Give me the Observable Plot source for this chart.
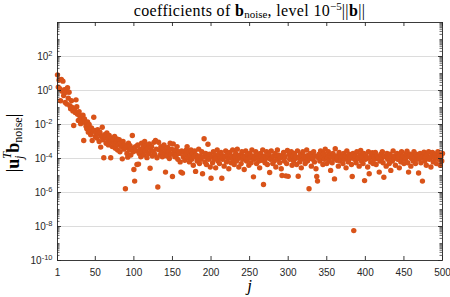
<!DOCTYPE html>
<html><head><meta charset="utf-8">
<script src="https://cdn.jsdelivr.net/npm/d3@7"></script>
<script src="https://cdn.jsdelivr.net/npm/@observablehq/plot@0.6"></script>
<style>
body{margin:0;background:#fff;}
#wrap{width:450px;height:297px;overflow:hidden;}
#title{height:20px;width:385px;margin-left:57px;text-align:center;font-family:"Liberation Serif","Times New Roman",serif;font-size:16px;letter-spacing:0.35px;line-height:21px;color:#000;white-space:nowrap;}
#title sub{font-size:11px;vertical-align:-2px;line-height:0;letter-spacing:0;}
#title sup{font-size:11px;vertical-align:6px;line-height:0;letter-spacing:0;}
#title .nb{font-weight:normal;}
</style></head>
<body><div id="wrap"><div id="title">coefficients of <b>b</b><sub>noise</sub>, level 10<sup>−5</sup><span class="nb">||</span><b>b</b><span class="nb">||</span></div></div>
<script>
// log10 of |u_j^T b_noise| for j = 1..500
const log10Coef = [
0.92,0.2,0.62,0.1,-0.6,0.65,-0.05,0.55,-0.3,0.05,
-0.7,-0.1,-0.8,0.16,-0.45,-0.1,-0.9,-1.08,-0.6,-1.0,
-1.2,-2.06,-1.1,-1.3,-0.55,-0.95,-1.4,-1.76,-1.25,-1.5,
-1.95,-1.6,-1.8,-1.45,-2.94,-1.67,-1.9,-2.1,-2.25,-1.85,
-2.45,-2.0,-2.3,-2.6,-2.2,-2.94,-2.4,-1.57,-2.35,-2.7,
-2.5,-2.8,-2.3,-2.55,-3.0,-2.45,-3.33,-2.7,-2.16,-2.9,
-3.96,-2.6,-2.75,-3.1,-2.5,-2.85,-3.2,-2.65,-3.05,-3.96,
-2.8,-3.3,-2.95,-3.15,-2.7,-3.4,-3.0,-2.85,-3.5,-3.2,
-2.9,-3.6,-3.1,-3.3,-4.02,-3.0,-3.45,-3.2,-5.78,-3.35,
-3.7,-3.92,-3.1,-3.5,-3.25,-3.8,-3.4,-2.65,-3.6,-4.65,
-5.33,-3.3,-3.55,-4.35,-3.2,-4.33,-3.7,-3.45,-3.9,-3.1,
-3.6,-3.35,-3.8,-3.0,-3.55,-3.25,-3.95,-3.4,-3.7,-3.15,
-4.57,-3.5,-3.3,-3.85,-3.6,-3.05,-3.75,-2.94,-3.45,-3.96,
-5.68,-3.04,-3.5,-3.8,-3.3,-3.65,-3.9,-3.4,-3.2,-3.7,
-4.8,-3.55,-3.85,-3.35,-3.6,-4.0,-3.1,-3.75,-3.45,-5.06,
-3.14,-3.65,-3.9,-3.5,-3.8,-3.3,-4.05,-3.6,-3.7,-4.2,
-4.8,-3.55,-4.86,-3.9,-3.65,-4.1,-3.75,-3.5,-3.3,-3.95,
-3.6,-4.2,-3.85,-3.5,-4.05,-3.7,-4.4,-3.9,-3.55,-4.76,
-3.8,-4.15,-3.95,-3.45,-4.3,-3.85,-4.05,-3.6,-4.9,-3.9,
-2.84,-4.2,-3.7,-4.35,-3.95,-3.16,-4.05,-3.75,-4.5,-5.16,
-3.9,-4.25,-3.6,-4.05,-3.8,-4.55,-3.95,-3.5,-4.15,-3.75,
-4.3,-3.95,-3.65,-5.16,-4.05,-3.85,-4.45,-3.9,-3.55,-4.2,
-3.75,-4.0,-4.6,-3.65,-3.95,-4.25,-3.85,-3.5,-4.05,-4.35,
-3.9,-3.7,-4.15,-3.45,-4.0,-4.5,-3.8,-3.95,-4.3,-3.6,
-4.05,-3.85,-4.65,-3.9,-3.55,-4.15,-3.75,-4.0,-4.4,-3.7,
-3.95,-4.25,-3.5,-3.85,-5.08,-4.05,-3.9,-3.6,-4.3,-3.95,
-3.75,-4.15,-4.55,-3.7,-3.9,-4.1,-3.5,-5.53,-3.85,-4.25,
-4.0,-3.6,-4.35,-3.9,-3.75,-4.82,-4.05,-3.55,-3.95,-4.3,
-3.85,-4.15,-3.7,-4.5,-3.9,-3.5,-4.05,-3.8,-4.25,-3.95,
-4.6,-5.0,-3.85,-3.65,-4.15,-3.9,-5.02,-4.3,-3.53,-5.05,
-3.75,-4.05,-3.95,-3.6,-4.4,-3.85,-4.15,-3.7,-4.0,-3.9,
-4.35,-3.55,-5.04,-3.95,-4.2,-3.75,-4.55,-3.9,-3.6,-4.05,
-3.85,-4.3,-3.95,-3.5,-4.15,-3.8,-5.78,-4.0,-3.7,-4.45,
-3.9,-4.05,-3.6,-4.2,-3.85,-4.6,-5.06,-5.33,-3.95,-3.75,
-4.15,-3.55,-4.0,-3.9,-4.35,-3.7,-4.05,-3.45,-3.85,-4.3,
-3.95,-3.6,-4.15,-3.8,-4.7,-3.9,-4.25,-3.7,-4.0,-5.2,
-3.43,-3.85,-4.1,-3.95,-4.45,-3.65,-4.15,-3.8,-4.0,-3.9,
-4.3,-3.7,-4.05,-3.85,-4.55,-3.55,-3.95,-4.2,-3.75,-4.0,
-3.9,-4.35,-5.06,-3.7,-8.24,-4.05,-3.85,-4.25,-3.6,-4.0,
-3.95,-4.45,-3.8,-3.53,-4.15,-3.9,-4.3,-3.7,-5.3,-4.05,
-3.85,-4.0,-4.5,-3.6,-4.9,-3.95,-4.2,-3.75,-3.66,-4.3,
-3.9,-4.05,-3.65,-4.35,-3.85,-4.0,-3.95,-4.8,-4.15,-3.75,
-4.0,-3.6,-4.25,-5.1,-3.9,-3.85,-4.45,-3.7,-4.05,-3.95,
-4.3,-3.75,-4.7,-3.9,-4.15,-3.55,-4.0,-3.85,-4.4,-3.95,
-3.7,-4.05,-3.9,-4.55,-3.75,-4.2,-3.6,-4.0,-3.85,-4.3,
-3.95,-4.05,-3.7,-3.57,-4.25,-4.8,-3.9,-3.75,-4.45,-4.0,
-3.85,-4.15,-3.6,-3.95,-4.3,-3.75,-4.05,-3.9,-4.85,-4.0,
-3.7,-4.25,-3.95,-5.33,-3.85,-3.63,-4.15,-3.9,-4.4,-3.75,
-4.0,-3.6,-4.05,-3.95,-4.5,-3.85,-3.65,-4.2,-3.9,-4.0,
-3.75,-4.3,-3.95,-3.6,-4.05,-3.85,-4.4,-3.9,-4.15,-3.7
];
const xTicks = [1,50,100,150,200,250,300,350,400,450,500];
const yLabelTicks = [1e-10,1e-8,1e-6,1e-4,1e-2,1,1e2];
const gridTicks = [1e-8,1e-6,1e-4,1e-2,1,1e2];
const yMinorTicks = [];
for (let e = -10; e < 4; e++) for (let m = 1; m <= 9; m++) {
  const v = m * Math.pow(10, e);
  if (!yLabelTicks.includes(v)) yMinorTicks.push(v);
}
const data = log10Coef.map((v, i) => ({j: i + 1, c: Math.pow(10, v)}));

const W = 450, H = 277, mT = 2, mB = 37, mL = 57, mR = 8;
const pH = H - mT - mB, pW = W - mL - mR;
const ink = "#262626";

const chart = Plot.plot({
  width: W, height: H,
  marginTop: mT, marginBottom: mB, marginLeft: mL, marginRight: mR,
  style: {fontFamily: "'Liberation Sans', Arial, sans-serif", fontSize: "10px", color: ink, background: "#fff"},
  x: {domain: [1, 500]},
  y: {type: "log", domain: [1e-10, 1e4]},
  marks: [
    Plot.gridY(gridTicks, {stroke: "#dcdcdc", strokeOpacity: 1, strokeWidth: 1.2}),
    Plot.dot(data, {x: "j", y: "c", r: 2.7, fill: "#D95319", stroke: "none"}),
    Plot.frame({stroke: ink, strokeWidth: 0.9}),
    Plot.ruleX(xTicks, {stroke: ink, strokeWidth: 0.9, insetTop: pH - 4}),
    Plot.ruleX(xTicks, {stroke: ink, strokeWidth: 0.9, insetBottom: pH - 4}),
    Plot.ruleY(yLabelTicks, {stroke: ink, strokeWidth: 0.9, insetRight: pW - 4}),
    Plot.ruleY(yLabelTicks, {stroke: ink, strokeWidth: 0.9, insetLeft: pW - 4}),
    Plot.ruleY(yMinorTicks, {stroke: ink, strokeWidth: 0.7, insetRight: pW - 2.5}),
    Plot.ruleY(yMinorTicks, {stroke: ink, strokeWidth: 0.7, insetLeft: pW - 2.5}),
    Plot.axisX(xTicks, {tickSize: 0, tickPadding: 8, tickFormat: d => String(d), label: null}),
    Plot.axisY(yLabelTicks, {tickSize: 0, tickPadding: 5, tickFormat: d => "10^" + Math.round(Math.log10(d)), label: null})
  ]
});
document.getElementById("wrap").appendChild(chart);

const svg = d3.select(chart);
svg.selectAll("text").each(function() {
  const t = this.textContent;
  const m = /^10\^(-?\d+)$/.exec(t);
  if (!m) return;
  const el = d3.select(this);
  el.text(null);
  el.append("tspan").text("10");
  el.append("tspan").attr("dy", "-0.5em").attr("font-size", "7.5px").text(m[1]);
});

// y-axis label |u_j^T b_noise|
const yl = svg.append("text")
  .attr("transform", "translate(19," + (mT + pH / 2 + 2) + ") rotate(-90)")
  .attr("text-anchor", "middle")
  .attr("font-family", "'Liberation Serif','Times New Roman',serif")
  .attr("font-size", 18).attr("fill", "#000");
yl.append("tspan").text("|");
yl.append("tspan").attr("font-weight", "bold").text("u");
yl.append("tspan").attr("font-style", "italic").attr("font-size", 12).attr("dy", -8).text("T");
yl.append("tspan").attr("font-style", "italic").attr("font-size", 12).attr("dx", -7).attr("dy", 12).text("j");
yl.append("tspan").attr("font-weight", "bold").attr("dx", 3).attr("dy", -4).text("b");
yl.append("tspan").attr("font-size", 12).attr("dy", 3).text("noise");
yl.append("tspan").attr("dy", -3).text("|");

// x-axis label j
svg.append("text")
  .attr("x", mL + pW / 2).attr("y", H - 6)
  .attr("text-anchor", "middle")
  .attr("font-family", "'Liberation Serif','Times New Roman',serif")
  .attr("font-style", "italic").attr("font-size", 17).attr("fill", "#000")
  .text("j");
</script></body></html>
